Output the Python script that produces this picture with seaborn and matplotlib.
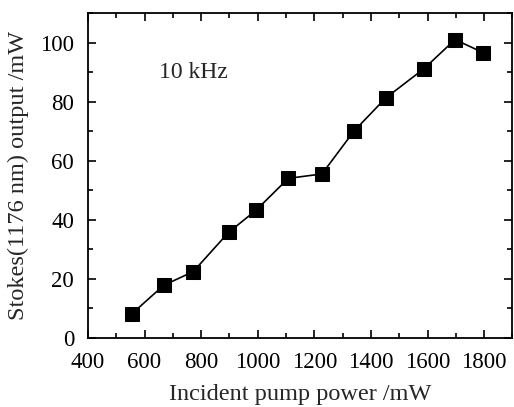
import numpy as np
import pandas as pd
import matplotlib
matplotlib.use("Agg")
import matplotlib.pyplot as plt
import seaborn as sns
from matplotlib.ticker import MultipleLocator

# Data
pump_power = [555, 668, 772, 897, 994, 1108, 1227, 1340, 1452, 1588, 1697, 1796]
stokes_output = [8.1, 17.8, 22.4, 35.7, 43.2, 54.0, 55.5, 70.0, 81.2, 91.2, 101.0, 96.6]

df = pd.DataFrame({"pump": pump_power, "stokes": stokes_output})

sns.set_style("ticks")
plt.rcParams['font.family'] = ['Liberation Serif', 'DejaVu Serif']

fig = plt.figure(figsize=(5.14, 4.07), dpi=100)
ax = fig.add_axes([0.171, 0.17, 0.826, 0.798])

sns.lineplot(data=df, x="pump", y="stokes", ax=ax, color="black",
             marker="s", markersize=10, markeredgecolor="black",
             linewidth=1.2)

ax.set_xlim(400, 1900)
ax.set_ylim(0, 110)
ax.xaxis.set_major_locator(MultipleLocator(200))
ax.xaxis.set_minor_locator(MultipleLocator(100))
ax.yaxis.set_major_locator(MultipleLocator(20))
ax.yaxis.set_minor_locator(MultipleLocator(10))
ax.tick_params(which="both", direction="in", top=True, right=True,
               labelsize=16.5, width=1.2, color="black", labelcolor="black")
ax.tick_params(which="major", length=6)
ax.tick_params(which="minor", length=3.5)
ax.tick_params(axis="x", which="major", pad=10)
ax.tick_params(axis="y", which="major", pad=10)
for s in ax.spines.values():
    s.set_linewidth(1.3)
    s.set_color("black")

ax.set_xlabel("Incident pump power /mW", fontsize=17.5, labelpad=8)
ax.set_ylabel("Stokes(1176 nm) output /mW", fontsize=17.5, labelpad=8)
ax.text(650, 90, "10 kHz", fontsize=17, va="center", ha="left")

fig.savefig("out.png", dpi=100)
